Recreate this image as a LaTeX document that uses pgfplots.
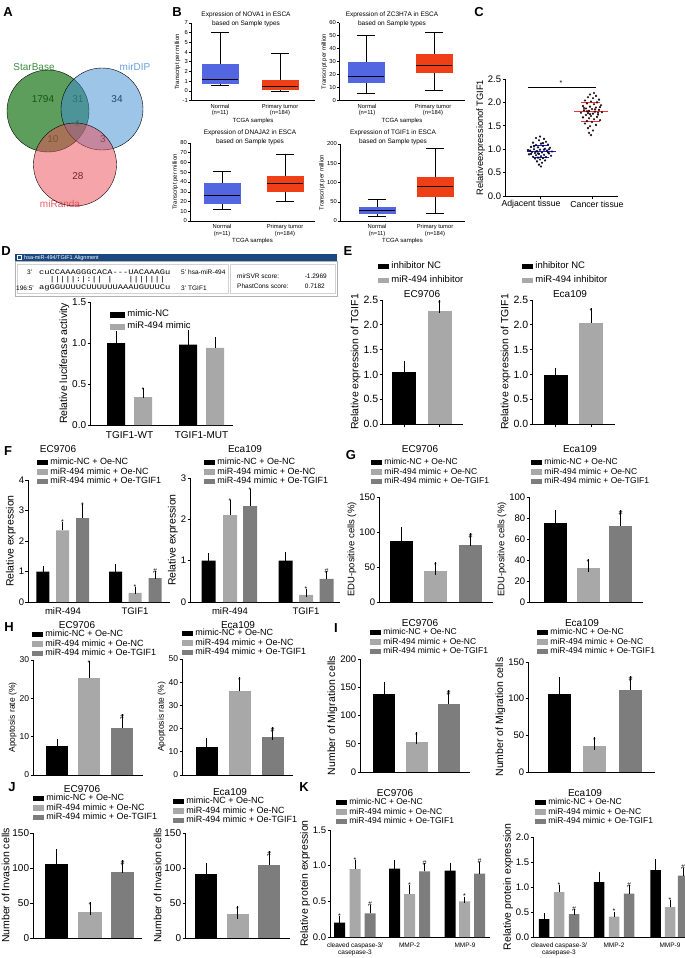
\documentclass[border=0pt]{standalone}
\usepackage{pgfplots}
\pgfplotsset{compat=1.18}
\usepgfplotslibrary{statistics}
\usepackage{fontspec}
\setmainfont{Liberation Sans}
\newfontfamily\monofont{Liberation Mono}
\usepackage{graphicx}

\definecolor{bblue}{RGB}{82,102,226}
\definecolor{bred}{RGB}{240,62,22}
\definecolor{gl}{RGB}{168,168,168}
\definecolor{gd}{RGB}{125,125,125}
\definecolor{navy}{RGB}{28,72,130}
\definecolor{vgreen}{RGB}{30,120,30}
\definecolor{vblue}{RGB}{60,140,210}
\definecolor{vred}{RGB}{235,75,85}
\definecolor{tgreen}{RGB}{60,140,60}
\definecolor{tblue}{RGB}{100,160,220}
\definecolor{tred}{RGB}{230,90,100}
\definecolor{pblue}{RGB}{25,25,230}
\definecolor{pred}{RGB}{240,50,50}

\newcommand\fz[2]{\fontsize{#1}{#2}\selectfont}
\newcommand\T[4][]{\node[inner sep=0pt,#1] at (#2pt,-#3pt) {#4};}
\newcommand\aln[1]{\scalebox{1.25}[1]{\monofont\fz{7}{7}#1}}

\pgfplotsset{
 gp/.style={scale only axis, anchor=south west, axis x line*=bottom, axis y line*=left,
  axis line style={black, line width=0.7pt, -},
  every tick/.style={black, line width=0.7pt}, tick align=outside, major tick length=2.5pt,
  xtick style={draw=none}, ymin=0, clip=false,
  tick label style={font=\fz{9.5}{10}, /pgf/number format/assume math mode=true},
  yticklabel style={inner sep=1.2pt},
  label style={font=\fz{10.5}{11}},
  ylabel style={inner sep=1.5pt},
  legend style={draw=none, fill=none, font=\fz{9}{9.5}, inner sep=0pt, outer sep=0pt, anchor=north west, row sep=0.3pt, nodes={inner sep=0.6pt, text height=6.3pt, text depth=1.7pt}, cells={anchor=west}, /tikz/every odd column/.append style={column sep=1.8pt}},
  legend image code/.code={\fill[##1] (0pt,-2.8pt) rectangle (11pt,2.8pt);},
 },
 b/.style={ybar, bar shift=0pt, bar width=#1, draw=none, error bars/y dir=plus, error bars/y explicit, error bars/error bar style={black, line width=0.6pt}, error bars/error mark options={black, line width=0.6pt, mark size=#1*0.28pt}},
 sig/.style={only marks, mark=none, nodes near coords, point meta=explicit symbolic, nodes near coords style={font=\fz{7}{7}, anchor=south, inner sep=0.8pt}},
 dec/.style={yticklabel style={/pgf/number format/.cd, fixed, fixed zerofill, precision=1}},
 bp/.style={scale only axis, anchor=south west, axis x line*=bottom, axis y line*=left,
  axis line style={black, line width=0.5pt, -}, every tick/.style={black, line width=0.5pt},
  tick align=outside, major tick length=2pt, xtick style={draw=none},
  tick label style={font=\fz{5.8}{6.5}, /pgf/number format/assume math mode=true},
  yticklabel style={inner sep=1pt},
  xticklabel style={align=center, inner sep=1.2pt}, label style={font=\fz{6}{6.5}}, ylabel style={inner sep=1pt}, xlabel style={inner sep=0.5pt},
  xlabel={TCGA samples}, ylabel={Transcript per million}, clip=false,
  xticklabels={{Normal\\(n=11)},{Primary tumor\\(n=184)}}},
 bx/.style n args={6}{black, line width=0.5pt, boxplot/draw direction=y, boxplot prepared={draw position=#1, lower whisker=#2, lower quartile=#3, median=#4, upper quartile=#5, upper whisker=#6, box extend=36, whisker extend=18}, boxplot/every median/.style={black, line width=0.7pt}},
}

\begin{document}
\begin{tikzpicture}
\useasboundingbox (0pt,0pt) rectangle (685pt,-958pt);

% ---------------- A: Venn
\begin{axis}[scale only axis, anchor=south west, at={(0pt,-210pt)}, width=160pt, height=150pt, xmin=0, xmax=160, ymin=-210, ymax=-60, hide axis, clip=false]
\addplot[only marks, mark=*, mark size=41pt, mark options={fill=vgreen, fill opacity=0.72, draw=none}] coordinates {(48,-111)};
\addplot[only marks, mark=*, mark size=41pt, mark options={fill=vblue, fill opacity=0.5, draw=none}] coordinates {(102,-109)};
\addplot[only marks, mark=*, mark size=41.5pt, mark options={fill=vred, fill opacity=0.5, draw=none}] coordinates {(75,-164.5)};
\node[font=\fz{10}{10}] at (axis cs:43,-99) {1794};
\node[font=\fz{10}{10}] at (axis cs:78,-99) {31};
\node[font=\fz{10}{10}] at (axis cs:117,-99) {34};
\node[font=\fz{10}{10}] at (axis cs:77,-124) {4};
\node[font=\fz{10}{10}] at (axis cs:53,-139) {10};
\node[font=\fz{10}{10}] at (axis cs:103,-139) {3};
\node[font=\fz{10}{10}] at (axis cs:78,-176) {28};
\node[font=\fz{10}{10}, text=tgreen] at (axis cs:34,-67) {StarBase};
\node[font=\fz{10}{10}, text=tblue] at (axis cs:135,-67) {mirDIP};
\node[font=\fz{10}{10}, text=tred] at (axis cs:60,-204) {miRanda};
\end{axis}

% ---------------- B: box plots
\begin{axis}[bp, at={(191pt,-100.5pt)}, width=124pt, height=77.5pt, xmin=191, xmax=315, ymin=-1, ymax=7, ytick={-1,0,1,2,3,4,5,6,7}, xtick={220,280}]
\addplot[bx={220}{0.6}{0.75}{1.15}{2.7}{6.0}, boxplot/every box/.style={fill=bblue, draw=bblue}] coordinates {};
\addplot[bx={280}{0.0}{0.15}{0.45}{1.1}{3.9}, boxplot/every box/.style={fill=bred, draw=bred}] coordinates {};
\end{axis}
\begin{axis}[bp, at={(339pt,-100.7pt)}, width=126pt, height=78pt, xmin=339, xmax=465, ymin=0, ymax=60, ytick={0,10,20,30,40,50,60}, xtick={367,433}]
\addplot[bx={366}{6}{14}{18.5}{29.5}{50}, boxplot/every box/.style={fill=bblue, draw=bblue}] coordinates {};
\addplot[bx={434}{8}{21.5}{27.5}{35.5}{53}, boxplot/every box/.style={fill=bred, draw=bred}] coordinates {};
\end{axis}
\begin{axis}[bp, at={(190pt,-221pt)}, width=125pt, height=78pt, xmin=190, xmax=315, ymin=0, ymax=80, ytick={0,10,20,30,40,50,60,70,80}, xtick={222,285}]
\addplot[bx={222}{12}{18}{26}{39}{51}, boxplot/every box/.style={fill=bblue, draw=bblue}] coordinates {};
\addplot[bx={285}{20}{31}{38.5}{46}{68}, boxplot/every box/.style={fill=bred, draw=bred}] coordinates {};
\end{axis}
\begin{axis}[bp, at={(340pt,-221pt)}, width=125pt, height=77pt, xmin=340, xmax=465, ymin=0, ymax=200, ytick={0,50,100,150,200}, xtick={377,435}]
\addplot[bx={377}{12}{21}{28}{36}{57}, boxplot/every box/.style={fill=bblue, draw=bblue}] coordinates {};
\addplot[bx={435}{20}{64}{89}{113}{190}, boxplot/every box/.style={fill=bred, draw=bred}] coordinates {};
\end{axis}
\T[font=\fz{6.5}{8.5}, align=center]{246}{19.5}{Expression of NOVA1 in ESCA\\based on Sample types}
\T[font=\fz{6.5}{8.5}, align=center]{392}{19.5}{Expression of ZC3H7A in ESCA\\based on Sample types}
\T[font=\fz{6.5}{8.5}, align=center]{250}{137.5}{Expression of DNAJA2 in ESCA\\based on Sample types}
\T[font=\fz{6.5}{8.5}, align=center]{393}{137.5}{Expression of TGIF1 in ESCA\\based on Sample types}

% ---------------- C: scatter
\begin{axis}[gp, at={(505pt,-196pt)}, width=113pt, height=117pt, xmin=505, xmax=618, ymax=2.5, ytick={0,0.5,1,1.5,2,2.5}, dec, xtick={540,592}, xtick style={draw=black}, xticklabels={}, ylabel={Relativeexpressionof TGIF1}, label style={font=\fz{9.3}{10}}, tick label style={font=\fz{9.5}{10}}]
\addplot[only marks, mark=*, mark size=0.9pt, mark options={draw=none, fill=pblue, fill opacity=0.8}] coordinates {
(540,1.27)(536,1.24)(544,1.22)(539,1.19)(546,1.16)(533,1.14)(541,1.12)(548,1.10)(536,1.09)(543,1.07)
(531,1.05)(538,1.04)(550,1.03)(545,1.01)(534,1.00)(540,0.99)(528,0.98)(547,0.97)(537,0.96)(552,0.95)
(532,0.94)(542,0.93)(535,0.92)(549,0.91)(539,0.90)(529,0.89)(544,0.88)(536,0.87)(551,0.86)(541,0.85)
(533,0.84)(546,0.83)(538,0.82)(543,0.81)(535,0.80)(540,0.78)(545,0.76)(537,0.74)(542,0.71)(539,0.67)
(541,0.63)(530,0.97)(548,0.93)(534,1.06)(544,0.99)(538,0.91)(543,1.13)(531,0.90)(549,1.00)(536,0.95)};
\addplot[only marks, mark=*, mark size=0.9pt, mark options={draw=none, fill=pred, fill opacity=0.8}] coordinates {
(594,2.20)(590,2.17)(596,2.14)(588,2.11)(593,2.09)(599,2.06)(585,2.04)(591,2.02)(597,2.00)(587,1.98)
(594,1.96)(601,1.94)(583,1.92)(590,1.91)(596,1.89)(586,1.87)(592,1.86)(599,1.84)(584,1.83)(589,1.82)
(595,1.80)(602,1.79)(581,1.78)(588,1.77)(593,1.76)(598,1.74)(586,1.73)(591,1.71)(597,1.69)(583,1.68)
(589,1.66)(594,1.64)(600,1.62)(587,1.60)(592,1.58)(585,1.55)(596,1.52)(590,1.49)(588,1.45)(593,1.40)
(589,1.35)(591,1.30)(584,1.88)(600,1.90)(595,1.85)(587,1.81)(598,1.78)(590,1.75)};
\addplot[pblue, line width=1pt] coordinates {(527,0.95)(556,0.95)};
\addplot[pblue, line width=0.8pt] coordinates {(533,1.08)(549,1.08)};
\addplot[pblue, line width=0.8pt] coordinates {(533,0.82)(549,0.82)};
\addplot[pred, line width=1pt] coordinates {(574,1.80)(608,1.80)};
\addplot[pred, line width=0.8pt] coordinates {(581,2.0)(600,2.0)};
\addplot[pred, line width=0.8pt] coordinates {(581,1.6)(600,1.6)};
\addplot[black, line width=0.7pt] coordinates {(528,2.32)(596,2.32)};
\addplot[sig] coordinates {(561,2.33) [*]};
\end{axis}
\T[font=\fz{8.7}{9}]{531}{204}{Adjacent tissue}
\T[font=\fz{8.7}{9}]{597}{204}{Cancer tissue}

% ---------------- D
\fill[navy] (15pt,-254pt) rectangle (337pt,-261.5pt);
\draw[white, line width=0.4pt] (17.5pt,-255.6pt) rectangle (21.5pt,-259.6pt);
\T[anchor=west, text=white, font=\fz{5.5}{6}]{24}{257.8}{hsa-miR-494/TGIF1 Alignment}
\draw[gray!60, line width=0.5pt] (15pt,-261.5pt) rectangle (337pt,-296pt);
\draw[gray!35, line width=0.5pt] (17pt,-264pt) rectangle (228pt,-293.5pt);
\draw[gray!35, line width=0.5pt] (230pt,-264pt) rectangle (335pt,-293.5pt);
\T[anchor=west, font=\fz{6.5}{7}]{27}{272}{3'}
\T[anchor=west]{39}{272}{\aln{cuCCAAAGGGCACA---UACAAAGu}}
\T[anchor=west]{39}{280}{\aln{~~|||||:|:||~|~~~|||||||~}}
\T[anchor=west, font=\fz{6.5}{7}]{16}{288}{196:5'}
\T[anchor=west]{39}{288}{\aln{agGGUUUUCUUUUUUAAAUGUUUCu}}
\T[anchor=west, font=\fz{6.5}{7}]{181}{272}{5'}
\T[anchor=west, font=\fz{6.5}{7}]{188}{272}{hsa-miR-494}
\T[anchor=west, font=\fz{6.5}{7}]{181}{288}{3'}
\T[anchor=west, font=\fz{6.5}{7}]{188}{288}{TGIF1}
\T[anchor=west, font=\fz{6.5}{7}]{237}{276}{mirSVR score:}
\T[anchor=east, font=\fz{6.5}{7}]{327}{276}{-1.2969}
\T[anchor=west, font=\fz{6.5}{7}]{237}{286}{PhastCons score:}
\T[anchor=east, font=\fz{6.5}{7}]{325}{286}{0.7182}

\begin{axis}[gp, at={(90pt,-425pt)}, width=143pt, height=123pt, xmin=90, xmax=233, ymax=1.5, ytick={0,0.5,1,1.5}, dec, xtick={129.5,201.5}, xticklabels={TGIF1-WT,TGIF1-MUT}, ylabel={Relative luciferase activity}, tick label style={font=\fz{10}{10.5}}, legend style={at={(0.14,0.935)}, font=\fz{9.5}{10}, row sep=2.8pt}, legend image code/.code={\fill[#1] (0pt,-3pt) rectangle (15pt,3pt);}]
\addplot[b=18, fill=black] coordinates {(116,1.0) +- (0,0.08) (188,0.98) +- (0,0.12)};
\addlegendentry{mimic-NC}
\addplot[b=18, fill=gl] coordinates {(143,0.34) +- (0,0.05) (215,0.94) +- (0,0.07)};
\addlegendentry{miR-494 mimic}
\addplot[sig] coordinates {(143,0.39) [*]};
\end{axis}

% ---------------- E
\begin{axis}[gp, at={(382pt,-424pt)}, width=81pt, height=124pt, xmin=382, xmax=463, ymax=2.5, ytick={0,0.5,1,1.5,2,2.5}, dec, xtick={404,439.5}, xticklabels={}, xtick style={draw=black}, ylabel={Relative expression of TGIF1}, tick label style={font=\fz{10.5}{11}}, legend style={at={(-0.049,1.306)}, font=\fz{9.5}{10}, row sep=4.5pt}]
\addplot[b=24, fill=black] coordinates {(404,1.04) +- (0,0.09)};
\addlegendentry{inhibitor NC}
\addplot[b=24, fill=gl] coordinates {(439.5,2.28) +- (0,0.09)};
\addlegendentry{miR-494 inhibitor}
\addplot[sig] coordinates {(439.5,2.37) [*]};
\end{axis}
\begin{axis}[gp, at={(532pt,-424pt)}, width=83pt, height=124pt, xmin=532, xmax=615, ymax=2.5, ytick={0,0.5,1,1.5,2,2.5}, dec, xtick={555.5,591}, xticklabels={}, xtick style={draw=black}, ylabel={Relative expression of TGIF1}, tick label style={font=\fz{10.5}{11}}, legend style={at={(-0.12,1.306)}, font=\fz{9.5}{10}, row sep=4.5pt}]
\addplot[b=24, fill=black] coordinates {(555.5,0.98) +- (0,0.02)};
\addlegendentry{inhibitor NC}
\addplot[b=24, fill=gl] coordinates {(591,2.04) +- (0,0.17)};
\addlegendentry{miR-494 inhibitor}
\addplot[sig] coordinates {(591,2.21) [*]};
\end{axis}
\T[font=\fz{10}{10}]{422}{294}{EC9706}
\T[font=\fz{10}{10}]{570}{294}{Eca109}

% ---------------- F
\begin{axis}[gp, at={(28pt,-602pt)}, width=142pt, height=122pt, xmin=28, xmax=170, ymax=4, ytick={0,1,2,3,4}, xtick={63,135}, xticklabels={miR-494,TGIF1}, ylabel={Relative expression}, legend style={at={(0.063,1.18)}}]
\addplot[b=13, fill=black] coordinates {(43,1.0) +- (0,0.07) (115.5,1.0) +- (0,0.13)};
\addlegendentry{mimic-NC + Oe-NC}
\addplot[b=13, fill=gl] coordinates {(62.5,2.35) +- (0,0.17) (135,0.30) +- (0,0.08)};
\addlegendentry{miR-494 mimic + Oe-NC}
\addplot[b=13, fill=gd] coordinates {(82.5,2.75) +- (0,0.33) (155,0.78) +- (0,0.11)};
\addlegendentry{miR-494 mimic + Oe-TGIF1}
\addplot[sig] coordinates {(62.5,2.52) [*] (82.5,3.08) [*] (135,0.38) [*] (155,0.89) [\#]};
\end{axis}
\begin{axis}[gp, at={(190pt,-602pt)}, width=150pt, height=124pt, xmin=190, xmax=340, ymax=3, ytick={0,1,2,3}, xtick={230,306}, xticklabels={miR-494,TGIF1}, ylabel={Relative expression}, legend style={at={(0.093,1.161)}}]
\addplot[b=14, fill=black] coordinates {(208.5,1.0) +- (0,0.09) (285.5,1.0) +- (0,0.12)};
\addlegendentry{mimic-NC + Oe-NC}
\addplot[b=14, fill=gl] coordinates {(230,2.1) +- (0,0.27) (306,0.17) +- (0,0.05)};
\addlegendentry{miR-494 mimic + Oe-NC}
\addplot[b=14, fill=gd] coordinates {(250,2.32) +- (0,0.31) (326.5,0.56) +- (0,0.1)};
\addlegendentry{miR-494 mimic + Oe-TGIF1}
\addplot[sig] coordinates {(230,2.37) [*] (250,2.63) [*] (306,0.22) [*] (326.5,0.66) [\#]};
\end{axis}
\T[font=\fz{10}{10}]{58}{449}{EC9706}
\T[font=\fz{10}{10}]{245}{449}{Eca109}

% ---------------- G
\begin{axis}[gp, at={(379pt,-602pt)}, width=114pt, height=105pt, xmin=379, xmax=493, ymax=150, ytick={0,50,100,150}, xtick=\empty, ylabel={EDU-positive cells (\%)}, label style={font=\fz{9.5}{10}}, legend style={at={(-0.07,1.371)}, font=\fz{8.5}{9}}]
\addplot[b=23, fill=black] coordinates {(401.5,87) +- (0,11)};
\addlegendentry{mimic-NC + Oe-NC}
\addplot[b=23, fill=gl] coordinates {(435.5,44) +- (0,3.5)};
\addlegendentry{miR-494 mimic + Oe-NC}
\addplot[b=23, fill=gd] coordinates {(470.5,82) +- (0,7)};
\addlegendentry{miR-494 mimic + Oe-TGIF1}
\addplot[sig] coordinates {(435.5,47.5) [*] (470.5,89) [\#]};
\end{axis}
\begin{axis}[gp, at={(529pt,-602pt)}, width=114pt, height=105pt, xmin=529, xmax=643, ymax=100, ytick={0,20,40,60,80,100}, xtick=\empty, ylabel={EDU-positive cells (\%)}, label style={font=\fz{9.5}{10}}, legend style={at={(0.018,1.371)}, font=\fz{8.5}{9}}]
\addplot[b=23, fill=black] coordinates {(555.5,75) +- (0,6.5)};
\addlegendentry{mimic-NC + Oe-NC}
\addplot[b=23, fill=gl] coordinates {(588,32.5) +- (0,2.5)};
\addlegendentry{miR-494 mimic + Oe-NC}
\addplot[b=23, fill=gd] coordinates {(620.5,72) +- (0,9.5)};
\addlegendentry{miR-494 mimic + Oe-TGIF1}
\addplot[sig] coordinates {(588,35) [*] (620.5,81.5) [\#]};
\end{axis}
\T[font=\fz{10}{10}]{420}{449}{EC9706}
\T[font=\fz{10}{10}]{580}{449}{Eca109}

% ---------------- H
\begin{axis}[gp, at={(33pt,-775pt)}, width=110pt, height=115pt, xmin=33, xmax=143, ymax=30, ytick={0,10,20,30}, xtick=\empty, ylabel={Apoptosis rate (\%)}, tick label style={font=\fz{8.5}{9}}, label style={font=\fz{8.5}{9}}, legend style={at={(-0.009,1.261)}}]
\addplot[b=22, fill=black] coordinates {(57,7.6) +- (0,0.2)};
\addlegendentry{mimic-NC + Oe-NC}
\addplot[b=22, fill=gl] coordinates {(89,25.2) +- (0,3.0)};
\addlegendentry{miR-494 mimic + Oe-NC}
\addplot[b=22, fill=gd] coordinates {(122,12.2) +- (0,2.0)};
\addlegendentry{miR-494 mimic + Oe-TGIF1}
\addplot[sig] coordinates {(89,28.2) [*] (122,14.2) [\#]};
\end{axis}
\begin{axis}[gp, at={(182pt,-775pt)}, width=111pt, height=116pt, xmin=182, xmax=293, ymax=50, ytick={0,10,20,30,40,50}, xtick=\empty, ylabel={Apoptosis rate (\%)}, tick label style={font=\fz{8.5}{9}}, label style={font=\fz{8.5}{9}}, legend style={at={(0,1.259)}}]
\addplot[b=22, fill=black] coordinates {(206.5,12) +- (0,1.3)};
\addlegendentry{mimic-NC + Oe-NC}
\addplot[b=22, fill=gl] coordinates {(239.5,36) +- (0,3.6)};
\addlegendentry{miR-494 mimic + Oe-NC}
\addplot[b=22, fill=gd] coordinates {(272.5,16.2) +- (0,1.7)};
\addlegendentry{miR-494 mimic + Oe-TGIF1}
\addplot[sig] coordinates {(239.5,39.6) [*] (272.5,17.9) [\#]};
\end{axis}
\T[font=\fz{10}{10}]{77}{625}{EC9706}
\T[font=\fz{10}{10}]{238}{625}{Eca109}

% ---------------- I
\begin{axis}[gp, at={(360pt,-772pt)}, width=110pt, height=113pt, xmin=360, xmax=470, ymax=200, ytick={0,50,100,150,200}, xtick=\empty, ylabel={Number of Migration cells}, legend style={at={(0.091,1.274)}, font=\fz{8.5}{9}}]
\addplot[b=22, fill=black] coordinates {(384,138) +- (0,10)};
\addlegendentry{mimic-NC + Oe-NC}
\addplot[b=22, fill=gl] coordinates {(416.5,53) +- (0,7)};
\addlegendentry{miR-494 mimic + Oe-NC}
\addplot[b=22, fill=gd] coordinates {(448.5,120) +- (0,14)};
\addlegendentry{miR-494 mimic + Oe-TGIF1}
\addplot[sig] coordinates {(416.5,60) [*] (448.5,134) [\#]};
\end{axis}
\begin{axis}[gp, at={(528pt,-772pt)}, width=127pt, height=110pt, xmin=528, xmax=655, ymax=150, ytick={0,50,100,150}, xtick=\empty, ylabel={Number of Migration cells}, legend style={at={(0.071,1.309)}, font=\fz{8.5}{9}}]
\addplot[b=23, fill=black] coordinates {(559.5,107) +- (0,14)};
\addlegendentry{mimic-NC + Oe-NC}
\addplot[b=23, fill=gl] coordinates {(594.5,35.5) +- (0,3)};
\addlegendentry{miR-494 mimic + Oe-NC}
\addplot[b=23, fill=gd] coordinates {(630.5,112.5) +- (0,9.5)};
\addlegendentry{miR-494 mimic + Oe-TGIF1}
\addplot[sig] coordinates {(594.5,38.5) [*] (630.5,122) [\#]};
\end{axis}
\T[font=\fz{10}{10}]{420}{623}{EC9706}
\T[font=\fz{10}{10}]{582}{623}{Eca109}

% ---------------- J
\begin{axis}[gp, at={(33pt,-938pt)}, width=109pt, height=105pt, xmin=33, xmax=142, ymax=150, ytick={0,50,100,150}, xtick=\empty, ylabel={Number of Invasion cells}, tick label style={font=\fz{10}{10.5}}, label style={font=\fz{10.5}{11}}, legend style={at={(0,1.371)}}]
\addplot[b=23, fill=black] coordinates {(56.5,106) +- (0,12)};
\addlegendentry{mimic-NC + Oe-NC}
\addplot[b=23, fill=gl] coordinates {(90,37) +- (0,5.5)};
\addlegendentry{miR-494 mimic + Oe-NC}
\addplot[b=23, fill=gd] coordinates {(122.5,94) +- (0,8)};
\addlegendentry{miR-494 mimic + Oe-TGIF1}
\addplot[sig] coordinates {(90,42.5) [*] (122.5,102) [\#]};
\end{axis}
\begin{axis}[gp, at={(185pt,-938pt)}, width=105pt, height=105pt, xmin=185, xmax=290, ymax=150, ytick={0,50,100,150}, xtick=\empty, ylabel={Number of Invasion cells}, tick label style={font=\fz{10}{10.5}}, label style={font=\fz{10.5}{11}}, legend style={at={(-0.114,1.343)}}]
\addplot[b=22, fill=black] coordinates {(206,91) +- (0,7.5)};
\addlegendentry{mimic-NC + Oe-NC}
\addplot[b=22, fill=gl] coordinates {(237.5,34) +- (0,2.5)};
\addlegendentry{miR-494 mimic + Oe-NC}
\addplot[b=22, fill=gd] coordinates {(269,105) +- (0,10)};
\addlegendentry{miR-494 mimic + Oe-TGIF1}
\addplot[sig] coordinates {(237.5,36.5) [*] (269,115) [\#]};
\end{axis}
\T[font=\fz{10}{10}]{82}{789}{EC9706}
\T[font=\fz{10}{10}]{230}{792}{Eca109}

% ---------------- K
\begin{axis}[gp, at={(330pt,-937pt)}, width=160pt, height=107pt, xmin=330, xmax=490, ymax=1.5, ytick={0,0.5,1,1.5}, dec, xtick={355,409.5,465}, xticklabels={{cleaved caspase-3/\\casepase-3},MMP-2,MMP-9}, xticklabel style={font=\fz{6.5}{7}, align=center}, ylabel={Relative protein expression}, legend style={at={(0.0375,1.299)}, font=\fz{8.5}{9}}]
\addplot[b=11, fill=black] coordinates {(339.5,0.2) +- (0,0.05) (394.5,0.96) +- (0,0.07) (450,0.93) +- (0,0.07)};
\addlegendentry{mimic-NC + Oe-NC}
\addplot[b=11, fill=gl] coordinates {(355,0.95) +- (0,0.08) (409.5,0.6) +- (0,0.08) (464.5,0.5) +- (0,0.02)};
\addlegendentry{miR-494 mimic + Oe-NC}
\addplot[b=11, fill=gd] coordinates {(370,0.33) +- (0,0.08) (424.5,0.92) +- (0,0.07) (479.5,0.89) +- (0,0.12)};
\addlegendentry{miR-494 mimic + Oe-TGIF1}
\addplot[sig] coordinates {(339.5,0.25) [*] (355,1.03) [*] (370,0.41) [\#] (409.5,0.68) [*] (424.5,0.99) [\#] (464.5,0.52) [*] (479.5,1.01) [\#]};
\end{axis}
\begin{axis}[gp, at={(533pt,-937pt)}, width=152pt, height=100pt, xmin=533, xmax=685, ymax=2, ytick={0,0.5,1,1.5,2}, dec, xtick={559,614,670}, xticklabels={{cleaved caspase-3/\\casepase-3},MMP-2,MMP-9}, xticklabel style={font=\fz{6.5}{7}, align=center}, ylabel={Relative protein expression}, legend style={at={(0.013,1.39)}, font=\fz{8.5}{9}}]
\addplot[b=10.5, fill=black] coordinates {(544,0.36) +- (0,0.07) (599,1.1) +- (0,0.15) (655.5,1.34) +- (0,0.16)};
\addlegendentry{mimic-NC + Oe-NC}
\addplot[b=10.5, fill=gl] coordinates {(559,0.9) +- (0,0.08) (614,0.41) +- (0,0.04) (670,0.6) +- (0,0.08)};
\addlegendentry{miR-494 mimic + Oe-NC}
\addplot[b=10.5, fill=gd] coordinates {(574,0.46) +- (0,0.04) (629,0.87) +- (0,0.11) (683,1.23) +- (0,0.1)};
\addlegendentry{miR-494 mimic + Oe-TGIF1}
\addplot[sig] coordinates {(559,0.98) [*] (574,0.5) [\#] (614,0.45) [*] (629,0.98) [\#] (670,0.68) [*] (683,1.33) [\#]};
\end{axis}
\T[font=\fz{10}{10}]{395}{793}{EC9706}
\T[font=\fz{10}{10}]{585}{793}{Eca109}

% ---------------- panel letters
\T[font=\bfseries\fz{13}{13}]{8}{12}{A}
\T[font=\bfseries\fz{13}{13}]{177}{12}{B}
\T[font=\bfseries\fz{13}{13}]{479}{12}{C}
\T[font=\bfseries\fz{13}{13}]{6}{251}{D}
\T[font=\bfseries\fz{13}{13}]{348}{251}{E}
\T[font=\bfseries\fz{13}{13}]{8}{451}{F}
\T[font=\bfseries\fz{13}{13}]{351}{455}{G}
\T[font=\bfseries\fz{13}{13}]{9}{627}{H}
\T[font=\bfseries\fz{13}{13}]{336}{628}{I}
\T[font=\bfseries\fz{13}{13}]{12}{787}{J}
\T[font=\bfseries\fz{13}{13}]{304}{787}{K}
\end{tikzpicture}
\end{document}
